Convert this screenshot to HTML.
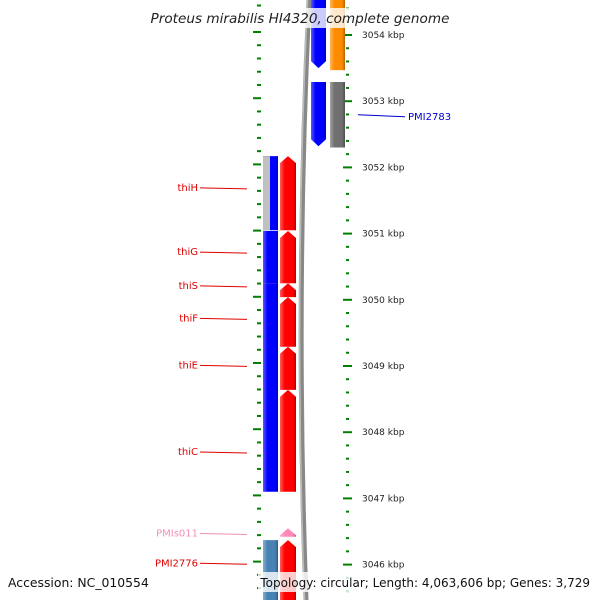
<!DOCTYPE html>
<html><head><meta charset="utf-8"><style>
html,body{margin:0;padding:0;background:#fff}
svg{display:block;font-family:"DejaVu Sans","Liberation Sans",sans-serif}
</style></head><body>
<svg id="chart" width="600" height="600" viewBox="0 0 600 600">
<defs>
<linearGradient id="gshade" x1="0" x2="1" y1="0" y2="0">
<stop offset="0" stop-color="#fff" stop-opacity="0.35"/>
<stop offset="0.3" stop-color="#fff" stop-opacity="0"/>
<stop offset="0.8" stop-color="#000" stop-opacity="0"/>
<stop offset="1" stop-color="#000" stop-opacity="0.3"/>
</linearGradient>
</defs>
<path d="M309,0 Q295,300 306,600" stroke="#888" stroke-width="5" fill="none"/>
<path d="M309,0 Q295,300 306,600" stroke="#bbb" stroke-width="1.5" fill="none" transform="translate(-1.5,0)"/>
<g id="ticks"></g>
<g id="genes"></g>
<g id="labels"></g>
<g>
<rect x="146" y="8" width="308" height="20" fill="#fff" opacity="0.8"/>
<text x="300" y="23" text-anchor="middle" font-size="13.6" font-style="italic" fill="#222">Proteus mirabilis HI4320, complete genome</text>
</g>
<g>
<rect x="4" y="572" width="156" height="20" fill="#fff" opacity="0.8"/>
<text x="8" y="587" font-size="12.4" fill="#111">Accession: NC_010554</text>
<rect x="258" y="572" width="338" height="20" fill="#fff" opacity="0.8"/>
<text x="590" y="587" text-anchor="end" font-size="12" fill="#111">Topology: circular; Length: 4,063,606 bp; Genes: 3,729</text>
</g>
</svg>
<script>
const majorTicks = [3054, 3053, 3052, 3051, 3050, 3049, 3048, 3047, 3046];
const tickLabels = ["3054 kbp","3053 kbp","3052 kbp","3051 kbp","3050 kbp","3049 kbp","3048 kbp","3047 kbp","3046 kbp"];
const geneStarts = [3054.6, 3054.6, 3053.29, 3053.29, 3052.17, 3052.17, 3051.04, 3051.04, 3050.25, 3050.04, 3049.29, 3048.64, 3046.55, 3046.37, 3046.37, 3045.4, 3045.4, 3050.25];
const geneEnds   = [3053.50, 3053.47, 3052.32, 3052.30, 3051.05, 3051.05, 3050.25, 3050.25, 3050.04, 3049.29, 3048.64, 3047.10, 3046.42, 3045.4, 3045.4, 3045.2, 3045.2, 3047.10];
const geneTrack  = ["r1","r2","r1","r2","l1","l2","l1","l2","l2","l2","l2","l2","l2","l1","l2","r1","r2","l1"];
const geneColor  = ["#0000ff","#ff8c00","#0000ff","#707070","#0000ff","#ff0000","#0000ff","#ff0000","#ff0000","#ff0000","#ff0000","#ff0000","#ff88bb","#4682b4","#ff0000","#0000ff","#ff1493","#0000ff"];
const geneDir    = ["down","none","down","none","none","up","none","up","up","up","up","up","up","none","up","none","none","none"];
const labelNames = ["PMI2783","thiH","thiG","thiS","thiF","thiE","thiC","PMIs011","PMI2776"];
const labelKbp   = [3052.78, 3051.69, 3050.72, 3050.21, 3049.72, 3049.01, 3047.70, 3046.47, 3046.02];
const labelSide  = ["right","left","left","left","left","left","left","left","left"];
const labelColor = ["#0000cc","#e00000","#e00000","#e00000","#e00000","#e00000","#e00000","#f090b8","#e00000"];

const NS="http://www.w3.org/2000/svg";
function yScale(k){return 35+(3054-k)*66.2;}
const trackX={r1:[311,326],r2:[330,345],l1:[263,278],l2:[280,296]};
function mk(tag,attrs,parent){const e=document.createElementNS(NS,tag);for(const k in attrs)e.setAttribute(k,attrs[k]);parent.appendChild(e);return e;}

const tg=document.getElementById('ticks');
for(let i=0;i<=50;i++){
  const k=3055-i*0.2;
  const major=Math.abs(k-Math.round(k))<0.01;
  const y=yScale(k);
  if(y<-5||y>605)continue;
  const t1=mk('line',{x1:major?253:257,x2:261,y1:y-3,y2:y-3,stroke:'#008000','stroke-width':2},tg);
  
  
  const t2=mk('line',{x1:major?343:346,x2:major?352:349,y1:y,y2:y,stroke:'#008000','stroke-width':2},tg);
  
  
}
majorTicks.forEach((k,i)=>{
  const t=mk('text',{x:362,y:yScale(k)+3,'font-size':9,fill:'#222'},tg);
  t.textContent=tickLabels[i];
  
  
});

const gg=document.getElementById('genes');
geneStarts.forEach((s,i)=>{
  const [x0,x1]=trackX[geneTrack[i]];
  const yA=yScale(s), yB=yScale(geneEnds[i]);
  const xm=(x0+x1)/2, a=7;
  let d;
  if(geneDir[i]==='up') d=`M${x0},${yB} L${x0},${yA+a} L${xm},${yA} L${x1},${yA+a} L${x1},${yB} Z`;
  else if(geneDir[i]==='down') d=`M${x0},${yA} L${x1},${yA} L${x1},${yB-a} L${xm},${yB} L${x0},${yB-a} Z`;
  else d=`M${x0},${yA} L${x1},${yA} L${x1},${yB} L${x0},${yB} Z`;
  const p=mk('path',{d:d,fill:geneColor[i]},gg);
  
  
  mk('path',{d:d,fill:'url(#gshade)'},gg);
});
const gr=mk('rect',{x:263,y:yScale(3052.17),width:7,height:yScale(3051.05)-yScale(3052.17),fill:'#c0c0c0'},gg);



const lg=document.getElementById('labels');
labelNames.forEach((n,i)=>{
  const y=yScale(labelKbp[i]);
  let line,t;
  if(labelSide[i]==='right'){
    line=mk('line',{x1:358,y1:y-1,x2:405,y2:y+1,stroke:labelColor[i],'stroke-width':1},lg);
    t=mk('text',{x:408,y:y+4,'font-size':10,fill:labelColor[i]},lg);
  } else {
    line=mk('line',{x1:200,y1:y,x2:247,y2:y+1,stroke:labelColor[i],'stroke-width':1},lg);
    t=mk('text',{x:198,y:y+3,'font-size':10,'text-anchor':'end',fill:labelColor[i]},lg);
  }
  t.textContent=n;
  
  
  
  
});
</script>
</body></html>
